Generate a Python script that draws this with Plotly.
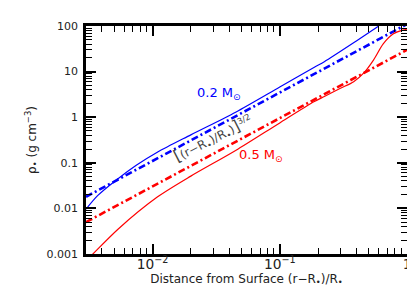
import plotly.graph_objects as go
import math

# ---- data ----
blue_solid_x = [0.003, 0.0037, 0.0052, 0.0075, 0.0109, 0.02, 0.045, 0.1, 0.187, 0.224, 0.4, 0.6]
blue_solid_y = [0.0096, 0.019, 0.042, 0.089, 0.17, 0.41, 1.29, 4.6, 12.5, 16.5, 47, 100]

red_solid_x = [0.003, 0.0034, 0.00535, 0.0109, 0.02, 0.045, 0.1, 0.187, 0.224, 0.3, 0.381, 0.46, 0.545, 0.65, 0.776, 0.927, 1.0]
red_solid_y = [0.0007, 0.001, 0.0035, 0.0177, 0.051, 0.186, 0.75, 2.2, 2.85, 4.3, 6.0, 9.5, 17.9, 40.6, 66.7, 81.3, 85]

blue_dd_x = [0.003, 1.0]
blue_dd_y = [0.018, 110]
red_dd_x = [0.003, 1.0]
red_dd_y = [0.005, 30]

BLUE = "#0000ff"
RED = "#ff0000"
DD = "7px,3px,2px,3px"

fig = go.Figure()
fig.add_trace(go.Scatter(x=blue_solid_x, y=blue_solid_y, mode="lines",
                         line=dict(color=BLUE, width=1.2, shape="spline", smoothing=0.8), name="0.2 Msun"))
fig.add_trace(go.Scatter(x=blue_dd_x, y=blue_dd_y, mode="lines",
                         line=dict(color=BLUE, width=2.6, dash=DD), name="0.2 Msun power law"))
fig.add_trace(go.Scatter(x=red_solid_x, y=red_solid_y, mode="lines",
                         line=dict(color=RED, width=1.2, shape="spline", smoothing=0.8), name="0.5 Msun"))
fig.add_trace(go.Scatter(x=red_dd_x, y=red_dd_y, mode="lines",
                         line=dict(color=RED, width=2.6, dash=DD), name="0.5 Msun power law"))

axis_common = dict(
    type="log", showgrid=False, zeroline=False,
    showline=True, linewidth=2.5, linecolor="black", mirror="allticks",
    ticks="inside", ticklen=10, tickwidth=1.5, tickcolor="black",
    dtick=1,
    minor=dict(ticks="inside", ticklen=6, tickwidth=1.2, tickcolor="black",
               showgrid=False, dtick="D1"),
    tickfont=dict(family="DejaVu Sans", size=11, color="#222222"),
)

fig.update_layout(
    width=415, height=299,
    margin=dict(l=78, r=12, t=14, b=53),
    paper_bgcolor="white", plot_bgcolor="white",
    showlegend=False,
    font=dict(family="DejaVu Sans", size=12, color="#222222"),
    xaxis=dict(range=[math.log10(0.003), 0], exponentformat="power",
               ticklabelstandoff=-4,
               title=dict(text="Distance from Surface (r\u2212R<sub>\u2022</sub>)/R<sub>\u2022</sub>",
                          font=dict(size=12), standoff=3),
               **axis_common),
    yaxis=dict(range=[-3, 2],
               title=dict(text="\u03c1<sub>\u2022</sub> (g cm<sup>\u22123</sup>)",
                          font=dict(size=12), standoff=8),
               ticklabelstandoff=3,
               **axis_common),
)

fig.add_annotation(x=-1.477, y=0.530, xref="x", yref="y", showarrow=False,
                   text="0.2 M<sub>\u2299</sub>", font=dict(color=BLUE, size=13))
fig.add_annotation(x=-1.145, y=-0.843, xref="x", yref="y", showarrow=False,
                   text="0.5 M<sub>\u2299</sub>", font=dict(color=RED, size=13))
fig.add_annotation(x=-1.523, y=-0.457, xref="x", yref="y", showarrow=False, textangle=-27,
                   text="<span style='font-size:16px'>[</span>(r\u2212R<sub>\u2022</sub>)/R<sub>\u2022</sub>)<span style='font-size:16px'>]</span><sup>3/2</sup>",
                   font=dict(color="#444444", size=12))

fig.write_html("out.html")
